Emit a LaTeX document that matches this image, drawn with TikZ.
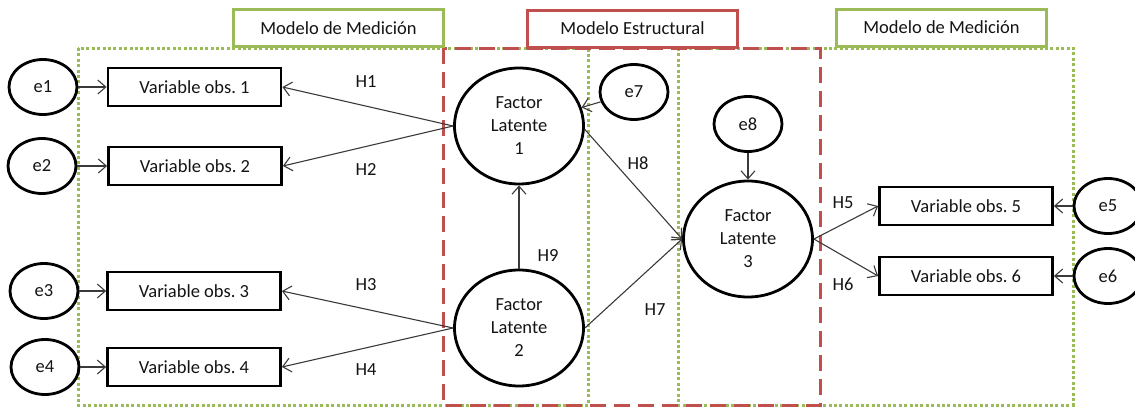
\documentclass[tikz,border=0pt]{standalone}
\usepackage{fontspec}
\setmainfont{Carlito}
\usetikzlibrary{shapes.geometric,arrows.meta}
\definecolor{frameGreen}{HTML}{9BBB59}
\definecolor{frameRed}{HTML}{C0504D}
\definecolor{inkGray}{HTML}{3A3A3A}
\frenchspacing

\begin{document}
\begin{tikzpicture}[x=1pt,y=-1pt,
  every node/.style={font=\fontsize{18.5}{23}\selectfont, text=black!92},
  errvar/.style={ellipse, draw=black, line width=2.8pt, minimum width=68pt, minimum height=55pt, inner sep=0pt},
  latent/.style={ellipse, draw=black, line width=2.8pt, minimum width=129pt, minimum height=116pt, inner sep=0pt, align=center},
  obsbox/.style={rectangle, draw=black, line width=2.8pt, minimum width=173pt, minimum height=38pt, inner sep=0pt},
  titlebox/.style={rectangle, line width=3pt, fill=white, minimum width=210pt, minimum height=37pt, inner sep=0pt},
  link/.style={draw=inkGray, line width=1.1pt, -{Straight Barb[length=8pt,width=14pt]}},
  hlabel/.style={inner sep=0pt},
  greenframe/.style={draw=frameGreen, line width=3pt, dash pattern=on 3pt off 2.4pt},
  redframe/.style={draw=frameRed, line width=3pt, dash pattern=on 16pt off 8pt},
]
\useasboundingbox (0,0) rectangle (1135,410);

% measurement and structural frames
\draw[greenframe] (78,48) rectangle (588,405);
\draw[greenframe] (678,48) rectangle (1073,405);
\draw[redframe] (443,48) rectangle (820,405);

% frame titles
\node[titlebox, draw=frameGreen] (tleft) at (338.5,28) {Modelo de Medición};
\node[titlebox, draw=frameRed] (tmid) at (632.5,28.5) {Modelo Estructural};
\node[titlebox, draw=frameGreen] (tright) at (941.5,27.5) {Modelo de Medición};

% error terms
\node[errvar] (e1) at (43,87) {e1};
\node[errvar] (e2) at (42,166) {e2};
\node[errvar] (e3) at (44,291) {e3};
\node[errvar] (e4) at (45,367) {e4};
\node[errvar] (e5) at (1108,206) {e5};
\node[errvar] (e6) at (1108,276) {e6};
\node[errvar] (e7) at (634,92) {e7};
\node[errvar] (e8) at (748,124) {e8};

% observed variables
\node[obsbox] (v1) at (194.5,87) {Variable obs. 1};
\node[obsbox] (v2) at (195,166) {Variable obs. 2};
\node[obsbox] (v3) at (194,291) {Variable obs. 3};
\node[obsbox] (v4) at (194,367) {Variable obs. 4};
\node[obsbox] (v5) at (966,206) {Variable obs. 5};
\node[obsbox] (v6) at (966,276) {Variable obs. 6};

% latent factors
\node[latent] (fl1) at (519,126) {Factor\\Latente\\1};
\node[latent] (fl2) at (519,328) {Factor\\Latente\\2};
\node[latent] (fl3) at (748,239) {Factor\\Latente\\3};

% path labels
\node[hlabel] (h1) at (366,82) {H1};
\node[hlabel] (h2) at (366,169) {H2};
\node[hlabel] (h3) at (366,285) {H3};
\node[hlabel] (h4) at (366,370) {H4};
\node[hlabel] (h5) at (843,203) {H5};
\node[hlabel] (h6) at (843,284) {H6};
\node[hlabel] (h7) at (655,310) {H7};
\node[hlabel] (h8) at (638,163) {H8};
\node[hlabel] (h9) at (548,255) {H9};

% error paths
\draw[link] (e1) -- (v1);
\draw[link] (e2) -- (v2);
\draw[link] (e3) -- (v3);
\draw[link] (e4) -- (v4);
\draw[link] (e5) -- (v5);
\draw[link] (e6) -- (v6);
\draw[link] (e7) -- (fl1);
\draw[link] (e8) -- (fl3);

% loadings
\draw[link] (fl1.west) -- (v1.east);
\draw[link] (fl1.west) -- (v2.east);
\draw[link] (fl2.west) -- (v3.east);
\draw[link] (fl2.west) -- (v4.east);
\draw[link] (fl3.east) -- (v5.west);
\draw[link] (fl3.east) -- (v6.west);

% structural paths
\draw[link] (fl2) -- (fl1);
\draw[link] (fl1.-3) -- (fl3.west);
\draw[link] (fl2.east) -- (fl3.west);
\end{tikzpicture}
\end{document}
